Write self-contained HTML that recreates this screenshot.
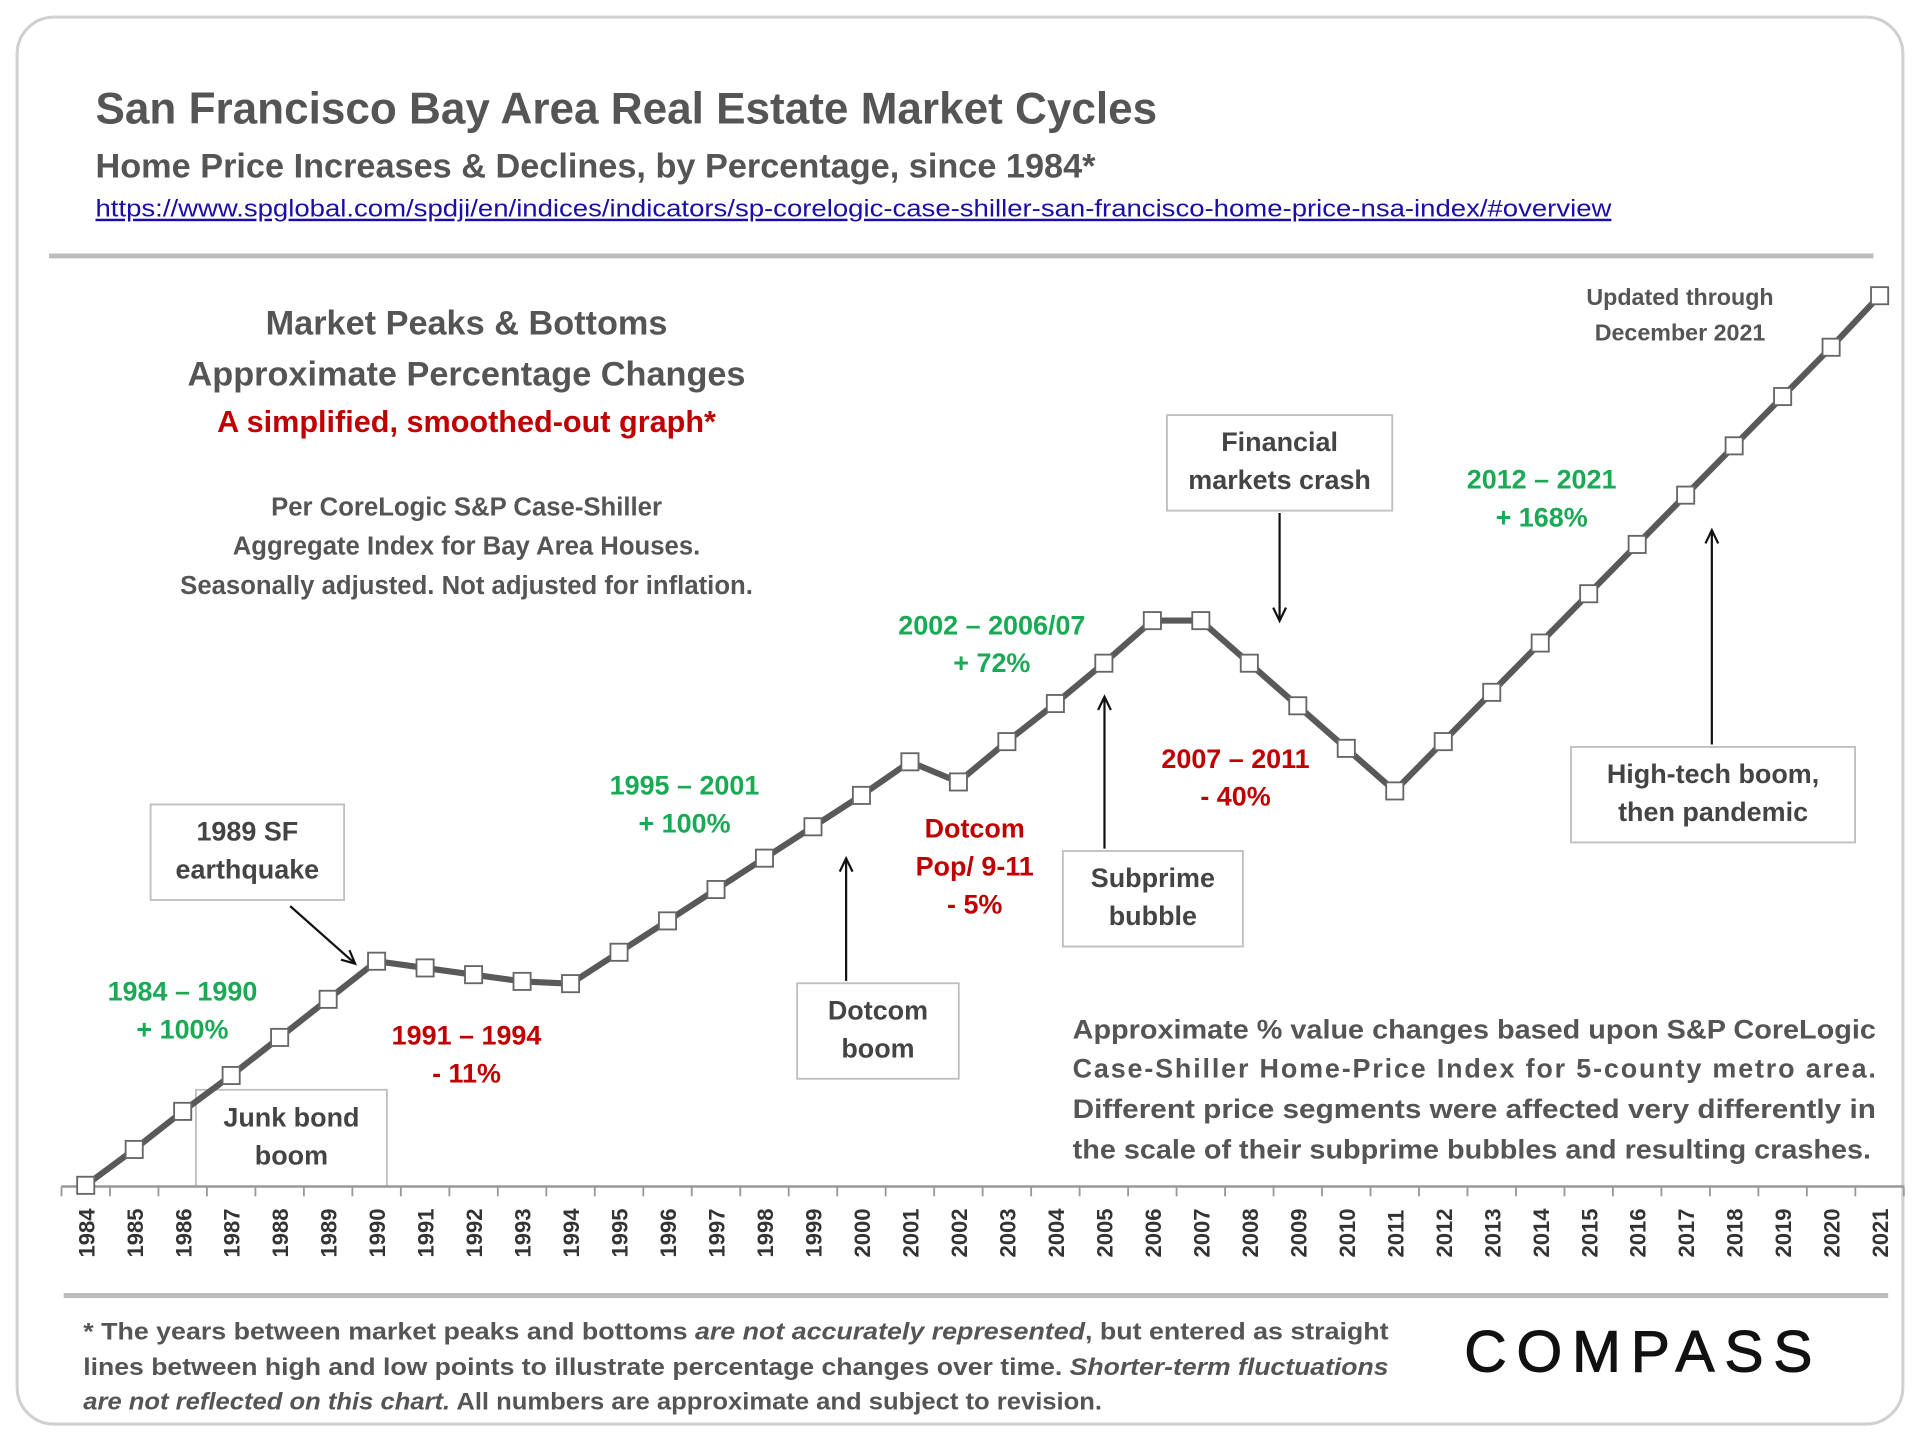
<!DOCTYPE html>
<html><head><meta charset="utf-8">
<style>
html,body{margin:0;padding:0;background:#fff;}
svg{display:block;}
text{font-family:"Liberation Sans",sans-serif;}
</style></head>
<body>
<svg id="chart" width="1920" height="1440" viewBox="0 0 1568 1176" xmlns="http://www.w3.org/2000/svg">
<rect x="14" y="14" width="1540" height="1149" rx="30" fill="#fff" stroke="#d0d0d0" stroke-width="2.5"/>
<text x="78" y="101" font-size="36" font-weight="bold" fill="#555">San Francisco Bay Area Real Estate Market Cycles</text>
<text x="78" y="145" font-size="28" font-weight="bold" fill="#555">Home Price Increases &amp; Declines, by Percentage, since 1984*</text>
<text x="78" y="177" font-size="20" fill="#1a0dab" text-decoration="underline" textLength="1238" lengthAdjust="spacingAndGlyphs">https://www.spglobal.com/spdji/en/indices/indicators/sp-corelogic-case-shiller-san-francisco-home-price-nsa-index/#overview</text>
<line x1="40" y1="209" x2="1530" y2="209" stroke="#bdbdbd" stroke-width="4"/>

<g font-weight="bold" text-anchor="middle">
<text x="381" y="273" font-size="28" fill="#555">Market Peaks &amp; Bottoms</text>
<text x="381" y="315" font-size="28" fill="#555">Approximate Percentage Changes</text>
<text x="381" y="353" font-size="25" fill="#c00000">A simplified, smoothed-out graph*</text>
<text x="381" y="421" font-size="21" fill="#555">Per CoreLogic S&amp;P Case-Shiller</text>
<text x="381" y="453" font-size="21" fill="#555">Aggregate Index for Bay Area Houses.</text>
<text x="381" y="485" font-size="21" fill="#555">Seasonally adjusted. Not adjusted for inflation.</text>
</g>
<g font-weight="bold" text-anchor="middle" font-size="19" fill="#555">
<text x="1372" y="249">Updated through</text>
<text x="1372" y="278">December 2021</text>
</g>

<g id="annotations" font-weight="bold" text-anchor="middle" font-size="22"></g>

<g id="axis"></g>
<g id="series"></g>

<g font-weight="bold" font-size="22" fill="#555">
<text x="876" y="848" textLength="656" lengthAdjust="spacingAndGlyphs">Approximate % value changes  based upon S&amp;P CoreLogic</text>
<text x="876" y="880" textLength="656" lengthAdjust="spacing">Case-Shiller Home-Price Index for 5-county metro area.</text>
<text x="876" y="913" textLength="656" lengthAdjust="spacingAndGlyphs">Different price segments were affected very differently in</text>
<text x="876" y="946" textLength="652" lengthAdjust="spacingAndGlyphs">the scale of their subprime bubbles and resulting crashes.</text>
</g>

<line x1="52" y1="1058" x2="1542" y2="1058" stroke="#bdbdbd" stroke-width="4"/>
<g font-size="20" font-weight="bold" fill="#555">
<text x="68" y="1094" textLength="1066" lengthAdjust="spacingAndGlyphs">* The years between market peaks and bottoms <tspan font-style="italic">are not accurately represented</tspan>, but entered as straight</text>
<text x="68" y="1123" textLength="1066" lengthAdjust="spacingAndGlyphs">lines between high and low points to illustrate percentage changes over time. <tspan font-style="italic">Shorter-term fluctuations</tspan></text>
<text x="68" y="1151" textLength="832" lengthAdjust="spacingAndGlyphs"><tspan font-style="italic">are not reflected on this chart.</tspan> All numbers are approximate and subject to revision.</text>
</g>
<text x="1342" y="1120" font-size="48" text-anchor="middle" fill="#111" stroke="#111" stroke-width="0.8" letter-spacing="8">COMPASS</text>

<script>
const years = [1984,1985,1986,1987,1988,1989,1990,1991,1992,1993,1994,1995,1996,1997,1998,1999,2000,2001,2002,2003,2004,2005,2006,2007,2008,2009,2010,2011,2012,2013,2014,2015,2016,2017,2018,2019,2020,2021];
const indexValues = [100,116,133,149,166,183,200,197,194,191,190,204,218,232,246,260,274,289,280,298,315,333,352,352,333,314,295,276,298,320,342,364,386,408,430,452,474,497];

const NS="http://www.w3.org/2000/svg";
function mk(tag,attrs,parent){const e=document.createElementNS(NS,tag);for(const k in attrs)e.setAttribute(k,attrs[k]);parent.appendChild(e);return e;}
const x0=70,x1=1535,yBase=968,kY=1.83;
const xScale=i=>x0+i*(x1-x0)/(years.length-1);
const yScale=v=>yBase-(v-100)*kY;
const step=(x1-x0)/(years.length-1);

const axis=document.getElementById('axis');
const al=mk('line',{x1:50,y1:969,x2:1555,y2:969,stroke:'#999','stroke-width':2},axis);


for(let i=0;i<=years.length;i++){
  const tx=xScale(i)-step/2;
  const t=mk('line',{x1:tx,y1:969,x2:tx,y2:977,stroke:'#999','stroke-width':1.5},axis);
  
  
}
years.forEach((y,i)=>{
  const x=xScale(i);
  const t=mk('text',{x:0,y:0,transform:`translate(${x+7},1027) rotate(-90)`,'font-size':18,'font-weight':'bold',fill:'#333'},axis);
  t.textContent=y;
  
  
});

const s=document.getElementById('series');
const pts=indexValues.map((v,i)=>xScale(i)+','+yScale(v)).join(' ');
const pl=mk('polyline',{points:pts,fill:'none',stroke:'#595959','stroke-width':5,'stroke-linejoin':'round'},s);


indexValues.forEach((v,i)=>{
  const r=mk('rect',{x:xScale(i)-7,y:yScale(v)-7,width:14,height:14,fill:'#fff',stroke:'#666','stroke-width':1.5},s);
  
  
});

const an=document.getElementById('annotations');
function label(lines,x,y,color,name){
  const g=mk('g',{},an);
  
  
  lines.forEach((l,i)=>{const t=mk('text',{x:x,y:y+i*31,fill:color},g);t.textContent=l;});
}
function box(lines,bx,by,bw,bh,name){
  const g=mk('g',{},an);
  
  
  mk('rect',{x:bx,y:by,width:bw,height:bh,fill:'#fff',stroke:'#bfbfbf','stroke-width':1.5},g);
  lines.forEach((l,i)=>{const t=mk('text',{x:bx+bw/2,y:by+bh/2-2+(i-(lines.length-1)/2)*31+8,fill:'#444'},g);t.textContent=l;});
}
function arrow(xa,ya,xb,yb,name){
  const g=mk('g',{stroke:'#111','stroke-width':1.8,fill:'none'},an);
  
  
  mk('line',{x1:xa,y1:ya,x2:xb,y2:yb},g);
  const a=Math.atan2(yb-ya,xb-xa),L=12;
  mk('polyline',{points:`${xb-L*Math.cos(a-0.45)},${yb-L*Math.sin(a-0.45)} ${xb},${yb} ${xb-L*Math.cos(a+0.45)},${yb-L*Math.sin(a+0.45)}`},g);
}
const G='#1aaa55',R='#c00000';
label(['1984 – 1990','+ 100%'],149,817,G,'label-1984-1990');
label(['1991 – 1994','- 11%'],381,853,R,'label-1991-1994');
label(['1995 – 2001','+ 100%'],559,649,G,'label-1995-2001');
label(['Dotcom','Pop/ 9-11','- 5%'],796,684,R,'label-dotcom-pop');
label(['2002 – 2006/07','+ 72%'],810,518,G,'label-2002-2007');
label(['2007 – 2011','- 40%'],1009,627,R,'label-2007-2011');
label(['2012 – 2021','+ 168%'],1259,399,G,'label-2012-2021');
box(['1989 SF','earthquake'],123,657,158,78,'box-earthquake');
box(['Junk bond','boom'],160,890,156,79,'box-junk-bond');
box(['Dotcom','boom'],651,803,132,78,'box-dotcom-boom');
box(['Subprime','bubble'],868,695,147,78,'box-subprime');
box(['Financial','markets crash'],953,339,184,78,'box-financial-crash');
box(['High-tech boom,','then pandemic'],1283,610,232,78,'box-high-tech');
arrow(237,740,290,787,'arrow-earthquake');
arrow(691,801,691,701,'arrow-dotcom');
arrow(902,693,902,569,'arrow-subprime');
arrow(1045,419,1045,507,'arrow-crash');
arrow(1398,608,1398,433,'arrow-high-tech');
</script>
</svg>
</body></html>
